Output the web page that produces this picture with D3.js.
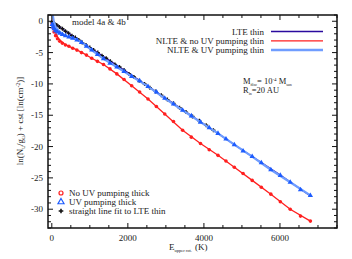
<!DOCTYPE html>
<html>
<head>
<meta charset="utf-8">
<script src="https://cdn.jsdelivr.net/npm/d3@7"></script>
<style>
  body { margin: 0; background: #fff; }
  text { font-family: "Liberation Serif", "DejaVu Serif", serif; fill: #222; }
</style>
</head>
<body>
<div id="chart"></div>
<script>
// ========== DATA ==========
// upper level energies (K) of the thick models
const levelE = [10, 30, 60, 100, 150, 210, 280, 360, 450, 550, 660, 780, 910, 1050, 1200, 1360, 1530, 1710, 1900, 2100,
  2310, 2530, 2750, 2970, 3200, 3440, 3670, 3910, 4140, 4370, 4580, 4800, 5030, 5270, 5510, 5760, 6010, 6270, 6540, 6800];
const noUvThick = [-0.4, -1.0, -1.7, -2.3, -2.8, -3.2, -3.5, -3.8, -4.0, -4.3, -4.6, -5.0, -5.4, -5.9, -6.4, -6.9, -7.6, -8.4, -9.3, -10.3,
  -11.3, -12.4, -13.6, -14.8, -16.0, -17.4, -18.5, -19.5, -20.5, -21.4, -22.3, -23.3, -24.3, -25.4, -26.5, -27.6, -28.8, -30.0, -31.1, -31.9];
const uvThick = [-0.5, -0.9, -1.2, -1.5, -1.7, -1.9, -2.1, -2.3, -2.5, -2.7, -3.0, -3.4, -4.0, -4.6, -5.3, -6.0, -6.7, -7.3, -8.0, -8.8,
  -9.5, -10.4, -11.3, -12.3, -13.2, -14.2, -15.1, -16.1, -17.0, -17.9, -18.8, -19.7, -20.7, -21.6, -22.6, -23.7, -24.6, -25.7, -26.9, -27.8];

// thin models (lines)
const thinE = [15, 50, 100, 160, 230, 330, 450, 600, 800, 1050, 1360, 1710, 2100, 2530, 2970, 3440, 3910, 4370, 4800, 5270, 5760, 6270, 6800];
const noUvThin = [1.5, -0.6, -1.8, -2.6, -3.1, -3.6, -4.0, -4.4, -5.0, -5.9, -6.9, -8.4, -10.3, -12.4, -14.8, -17.4, -19.5, -21.4, -23.3, -25.4, -27.6, -30.0, -31.9];
const uvThin = [1.5, 0.0, -0.9, -1.4, -1.8, -2.2, -2.5, -2.8, -3.4, -4.6, -6.0, -7.3, -8.8, -10.4, -12.3, -14.2, -16.1, -17.9, -19.7, -21.6, -23.7, -25.7, -27.8];
const lteThinE = [0, 1000, 2000, 3000, 4000, 5000, 6000, 6800];
const lteThin = [-0.1, -4.2, -8.2, -12.3, -16.4, -20.5, -24.5, -27.9];

// straight line fit to LTE thin (points)
const fitE = [0, 60, 130, 200, 280, 360, 440, 530, 620, 710, 800, 900, 1000, 1100, 1210, 1320, 1430, 1540, 1660, 1780,
  1900, 2030, 2160, 2300, 2440, 2580, 2730, 2880, 3040, 3200, 3360, 3530, 3700, 3880, 4060, 4250];
const fitY = [-0.1, -0.3, -0.6, -0.9, -1.2, -1.6, -1.9, -2.3, -2.6, -3.0, -3.4, -3.8, -4.2, -4.6, -5.0, -5.5, -5.9, -6.4, -6.9, -7.3,
  -7.8, -8.4, -8.9, -9.5, -10.0, -10.6, -11.2, -11.8, -12.5, -13.1, -13.8, -14.5, -15.2, -15.9, -16.6, -17.4];

const xTicks = [0, 2000, 4000, 6000];
const yTicks = [0, -5, -10, -15, -20, -25, -30];

// ========== CHART ==========
const W = 352, H = 259;
const plot = { left: 48, right: 337, top: 15, bottom: 228 };

const svg = d3.select("#chart").append("svg")
  .attr("width", W).attr("height", H);

const x = d3.scaleLinear().domain([-100, 7500]).range([plot.left, plot.right]);
const y = d3.scaleLinear().domain([-33, 1]).range([plot.bottom, plot.top]);

svg.append("clipPath").attr("id", "clip")
  .append("rect")
  .attr("x", plot.left).attr("y", plot.top)
  .attr("width", plot.right - plot.left).attr("height", plot.bottom - plot.top);

const colRed = "#ff1f1f", colBlue = "#1d5cff", colLight = "#6f9dff", colLte = "#2a0a9e";

const pairs = (xs, ys) => xs.map((e, i) => [e, ys[i]]);
const line = d3.line().x(d => x(d[0])).y(d => y(d[1]));

const g = svg.append("g").attr("clip-path", "url(#clip)");

// red: no UV pumping
g.append("path").datum(pairs(thinE, noUvThin)).attr("d", line)
  .attr("fill", "none").attr("stroke", colRed).attr("stroke-width", 1.3);
g.selectAll(".red").data(pairs(levelE, noUvThick)).join("circle")
  .attr("class", "red")
  .attr("cx", d => x(d[0])).attr("cy", d => y(d[1])).attr("r", 1.8)
  .attr("fill", colRed);

// LTE thin + fit
g.append("path").datum(pairs(lteThinE, lteThin)).attr("d", line)
  .attr("fill", "none").attr("stroke", colLte).attr("stroke-width", 1.3);
g.selectAll(".fit").data(pairs(fitE, fitY)).join("path")
  .attr("class", "fit")
  .attr("d", d3.symbol(d3.symbolCross, 9))
  .attr("transform", d => `translate(${x(d[0])},${y(d[1])})`)
  .attr("fill", "#111");

// blue: UV pumping
g.append("path").datum(pairs(thinE, uvThin)).attr("d", line)
  .attr("fill", "none").attr("stroke", colLight).attr("stroke-width", 2.2);
g.selectAll(".blue").data(pairs(levelE, uvThick)).join("path")
  .attr("class", "blue")
  .attr("d", d3.symbol(d3.symbolTriangle, 12))
  .attr("transform", d => `translate(${x(d[0])},${y(d[1])})`)
  .attr("fill", colBlue);

// ========== AXES / FRAME ==========
const axes = svg.append("g");
const minorX = d3.range(0, 7501, 500);
const minorY = d3.range(-33, 2, 1);

function tick(x1, y1, x2, y2) {
  axes.append("line").attr("x1", x1).attr("y1", y1).attr("x2", x2).attr("y2", y2)
    .attr("stroke", "#111").attr("stroke-width", 1);
}
minorX.forEach(v => {
  const len = v % 2000 === 0 ? 5 : 3;
  tick(x(v), plot.bottom, x(v), plot.bottom - len);
  tick(x(v), plot.top, x(v), plot.top + len);
});
minorY.forEach(v => {
  const len = v % 5 === 0 ? 5 : 3;
  tick(plot.left, y(v), plot.left + len, y(v));
  tick(plot.right, y(v), plot.right - len, y(v));
});
axes.append("rect")
  .attr("x", plot.left).attr("y", plot.top)
  .attr("width", plot.right - plot.left).attr("height", plot.bottom - plot.top)
  .attr("fill", "none").attr("stroke", "#111").attr("stroke-width", 1.5);

axes.selectAll(".xl").data(xTicks).join("text")
  .attr("x", d => x(d)).attr("y", 241)
  .attr("text-anchor", "middle").attr("font-size", 9)
  .text(d => d);
axes.selectAll(".yl").data(yTicks).join("text")
  .attr("x", 43).attr("y", d => y(d) + 3)
  .attr("text-anchor", "end").attr("font-size", 9)
  .text(d => d);

// axis titles
const xt = svg.append("text").attr("x", 169).attr("y", 250).attr("font-size", 9);
xt.append("tspan").text("E");
xt.append("tspan").attr("font-size", 4.5).attr("dy", 2).text("upper rot.");
xt.append("tspan").attr("dy", -2).attr("dx", 3).text("(K)");

const yt = svg.append("text")
  .attr("transform", "translate(23,121) rotate(-90)")
  .attr("text-anchor", "middle").attr("font-size", 9);
yt.append("tspan").text("ln(N");
yt.append("tspan").attr("font-size", 5.5).attr("dy", 2).text("u");
yt.append("tspan").attr("dy", -2).text("/g");
yt.append("tspan").attr("font-size", 5.5).attr("dy", 2).text("u");
yt.append("tspan").attr("dy", -2).text(") + cst [ln(cm");
yt.append("tspan").attr("font-size", 5.5).attr("dy", -3).text("-2");
yt.append("tspan").attr("dy", 3).text(")]");

// ========== ANNOTATIONS ==========
svg.append("text").attr("x", 72).attr("y", 25).attr("font-size", 9).text("model 4a & 4b");

const m = svg.append("text").attr("x", 243).attr("y", 84).attr("font-size", 8.5);
m.append("tspan").text("M");
m.append("tspan").attr("font-size", 4).attr("dy", 1.5).text("disc");
m.append("tspan").attr("dy", -1.5).text("= 10");
m.append("tspan").attr("font-size", 5).attr("dy", -3).text("-4");
m.append("tspan").attr("dy", 3).text(" M");
m.append("tspan").attr("font-size", 4).attr("dy", 1.5).text("sun");
const r = svg.append("text").attr("x", 243).attr("y", 93).attr("font-size", 8.5);
r.append("tspan").text("R");
r.append("tspan").attr("font-size", 4).attr("dy", 1.5).text("in");
r.append("tspan").attr("dy", -1.5).text("=20 AU");

// ========== LEGENDS ==========
const lineLegend = [
  { label: "LTE thin", color: colLte, width: 1.3 },
  { label: "NLTE & no UV pumping thin", color: colRed, width: 1.3 },
  { label: "NLTE & UV pumping thin", color: colLight, width: 2.5 }
];
lineLegend.forEach((d, i) => {
  const ly = 31.5 + i * 9.3;
  svg.append("text").attr("x", 264).attr("y", ly + 3).attr("text-anchor", "end")
    .attr("font-size", 9).text(d.label);
  svg.append("line").attr("x1", 271).attr("x2", 323).attr("y1", ly).attr("y2", ly)
    .attr("stroke", d.color).attr("stroke-width", d.width);
});

const symLegend = [
  { label: "No UV pumping thick", type: "circle", color: colRed },
  { label: "UV pumping thick", type: "triangle", color: colBlue },
  { label: "straight line fit to LTE thin", type: "cross", color: "#111" }
];
symLegend.forEach((d, i) => {
  const ly = 193 + i * 9;
  const sx = 61;
  if (d.type === "circle") {
    svg.append("circle").attr("cx", sx).attr("cy", ly).attr("r", 2)
      .attr("fill", "#fff").attr("stroke", d.color).attr("stroke-width", 1.2);
  } else if (d.type === "triangle") {
    svg.append("path").attr("d", d3.symbol(d3.symbolTriangle, 16))
      .attr("transform", `translate(${sx},${ly})`)
      .attr("fill", "#fff").attr("stroke", d.color).attr("stroke-width", 1.2);
  } else {
    svg.append("path").attr("d", d3.symbol(d3.symbolCross, 12))
      .attr("transform", `translate(${sx},${ly})`).attr("fill", d.color);
  }
  svg.append("text").attr("x", 69).attr("y", ly + 3).attr("font-size", 9).text(d.label);
});
</script>
</body>
</html>
